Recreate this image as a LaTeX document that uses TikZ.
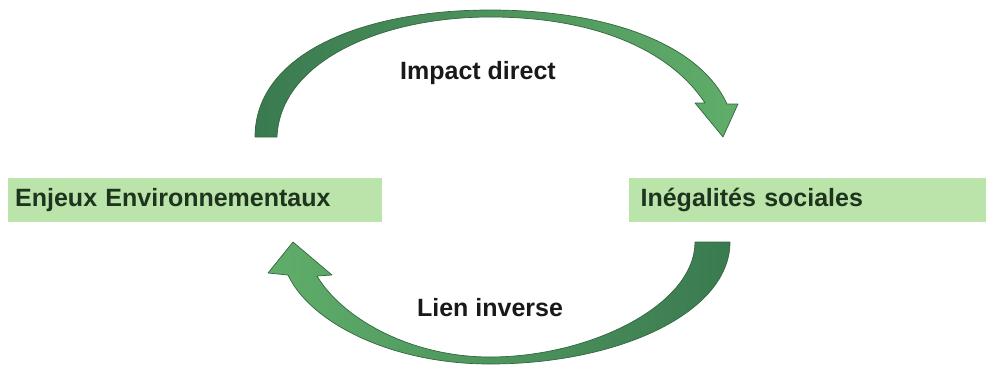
\documentclass[tikz,border=0pt]{standalone}
\usepackage{fontspec}
\setmainfont{Liberation Sans}
\usetikzlibrary{positioning}
\definecolor{boxfill}{RGB}{186,228,170}
\definecolor{boxtext}{RGB}{30,52,30}
\definecolor{arrowdark}{RGB}{58,122,80}
\definecolor{arrowlight}{RGB}{96,174,106}
\definecolor{arrowedge}{RGB}{52,102,64}
\tikzset{
  box/.style={fill=boxfill, minimum height=44pt, inner xsep=7pt, inner ysep=0pt,
    text=boxtext, font=\bfseries\fontsize{25}{30}\selectfont, align=left},
  linklabel/.style={text=black!90, font=\bfseries\fontsize{25}{30}\selectfont},
  bigarrow/.style={draw=arrowedge, line width=0.7pt, line join=round},
}

\begin{document}
\begin{tikzpicture}[x=1pt,y=-1pt]
\useasboundingbox (0,0) rectangle (986,370);

% the two sides
\node[box, text width=360pt, anchor=west] (env) at (8,200) {Enjeux Environnementaux};
\node[box, text width=334pt, inner xsep=12pt, right=246pt of env] (ineg) {Inégalités sociales};

% impact direct (top)
\path[bigarrow, left color=arrowdark, right color=arrowlight]
  (255,137) .. controls (255,55) and (360,10) .. (490,10)
  .. controls (610,10) and (700,45) .. (727,104)
  -- (738,104) -- (723,137) -- (695,103) -- (705,103)
  .. controls (670,50) and (595,17) .. (490,17)
  .. controls (380,17) and (280,62) .. (277,137) -- cycle;
\node[linklabel] (direct) at (478,73) {Impact direct};

% lien inverse (bottom)
\path[bigarrow, left color=arrowlight, right color=arrowdark]
  (730,242) .. controls (730,312) and (620,364) .. (490,364)
  .. controls (390,364) and (310,322) .. (288,275)
  -- (268,273) -- (293,242) -- (332,275) -- (317,276)
  .. controls (342,318) and (410,357) .. (490,357)
  .. controls (590,357) and (695,305) .. (695,242) -- cycle;
\node[linklabel] (inverse) at (490,308) {Lien inverse};
\end{tikzpicture}
\end{document}
